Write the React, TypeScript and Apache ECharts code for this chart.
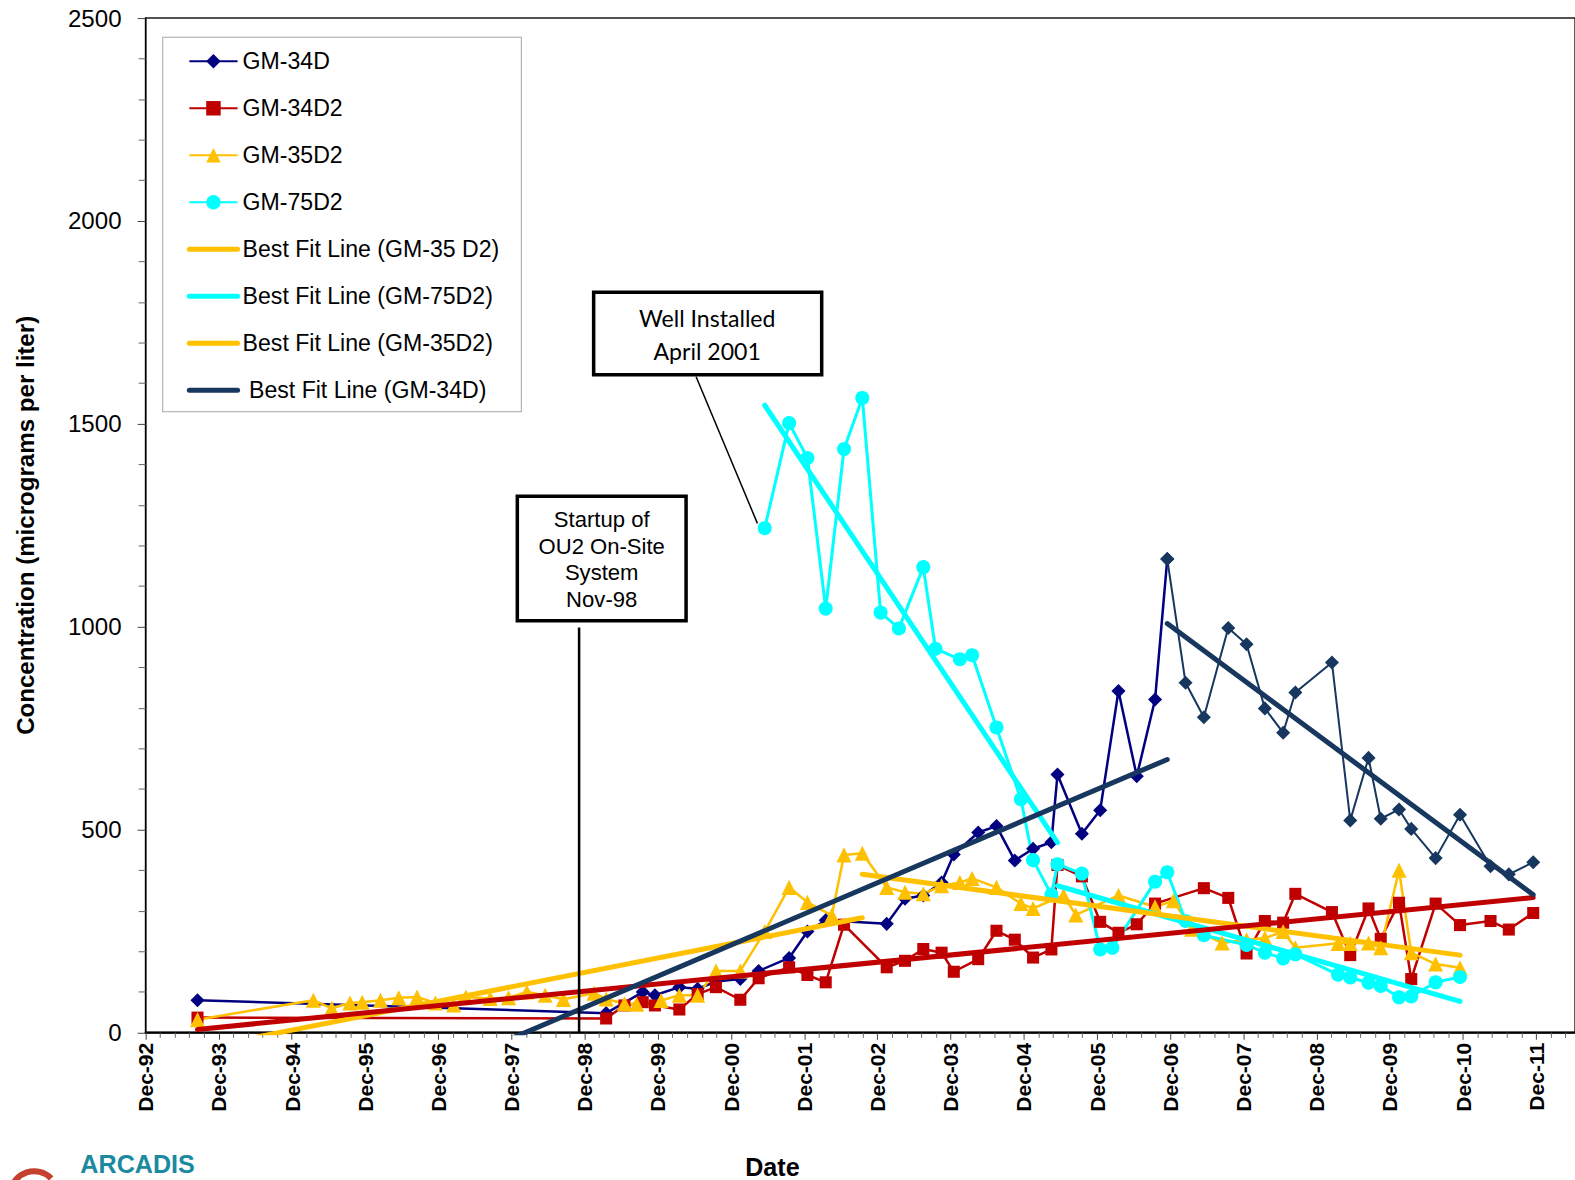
import React, { useEffect, useRef } from "react";
import * as echarts from "echarts";

const FONT = "'Liberation Sans', Arial, sans-serif";

// ---- data (date "YYYY-MM", concentration ug/L) ----
const gm34d: [string, number][] = [
  ["1993-08", 80], ["1999-03", 48], ["1999-09", 100], ["1999-11", 92], ["2000-03", 112],
  ["2000-06", 108], ["2000-09", 126], ["2001-01", 132], ["2001-04", 152], ["2001-09", 184],
  ["2001-12", 249], ["2002-03", 277], ["2003-01", 268], ["2003-04", 330], ["2003-07", 338],
  ["2003-10", 370], ["2003-12", 439], ["2004-04", 493], ["2004-07", 509], ["2004-10", 424],
  ["2005-01", 453], ["2005-04", 469], ["2005-05", 636], ["2005-09", 490], ["2005-12", 548],
  ["2006-03", 842], ["2006-06", 632], ["2006-09", 821], ["2006-11", 1167],
];
const gm34dLate: [string, number][] = [
  ["2006-11", 1167], ["2007-02", 862], ["2007-05", 777], ["2007-09", 997], ["2007-12", 957],
  ["2008-03", 799], ["2008-06", 739], ["2008-08", 838], ["2009-02", 912], ["2009-05", 523],
  ["2009-08", 677], ["2009-10", 527], ["2010-01", 550], ["2010-03", 502], ["2010-07", 430],
  ["2010-11", 537], ["2011-04", 410], ["2011-07", 390], ["2011-11", 420],
];
const gm34d2: [string, number][] = [
  ["1993-08", 37], ["1999-03", 35], ["1999-06", 67], ["1999-09", 75], ["1999-11", 67],
  ["2000-03", 57], ["2000-06", 95], ["2000-09", 112], ["2001-01", 81], ["2001-04", 134],
  ["2001-09", 161], ["2001-12", 142], ["2002-03", 124], ["2002-06", 266], ["2003-01", 161],
  ["2003-04", 177], ["2003-07", 206], ["2003-10", 197], ["2003-12", 150], ["2004-04", 181],
  ["2004-07", 251], ["2004-10", 229], ["2005-01", 185], ["2005-04", 205], ["2005-05", 413],
  ["2005-09", 385], ["2005-12", 273], ["2006-03", 246], ["2006-06", 267], ["2006-09", 318],
  ["2007-05", 356], ["2007-09", 332], ["2007-12", 195], ["2008-03", 275], ["2008-06", 271],
  ["2008-08", 342], ["2009-02", 297], ["2009-05", 191], ["2009-08", 306], ["2009-10", 231],
  ["2010-01", 320], ["2010-03", 132], ["2010-07", 318], ["2010-11", 265], ["2011-04", 275],
  ["2011-07", 254], ["2011-11", 295],
];
const gm35d2: [string, number][] = [
  ["1993-08", 32], ["1995-03", 80], ["1995-06", 60], ["1995-09", 73], ["1995-11", 75],
  ["1996-02", 80], ["1996-05", 86], ["1996-08", 88], ["1996-11", 73], ["1997-02", 68],
  ["1997-04", 88], ["1997-08", 84], ["1997-11", 86], ["1998-02", 100], ["1998-05", 92],
  ["1998-08", 82], ["1999-01", 97], ["1999-03", 83], ["1999-06", 71], ["1999-08", 70],
  ["1999-12", 79], ["2000-03", 92], ["2000-06", 92], ["2000-09", 152], ["2001-01", 152],
  ["2001-05", 249], ["2001-09", 358], ["2001-12", 321], ["2002-04", 289], ["2002-06", 438],
  ["2002-09", 442], ["2003-01", 358], ["2003-04", 346], ["2003-07", 342], ["2003-10", 362],
  ["2004-01", 370], ["2004-03", 380], ["2004-07", 358], ["2004-11", 318], ["2005-01", 306],
  ["2005-06", 338], ["2005-08", 290], ["2006-03", 338], ["2006-09", 310], ["2006-12", 325],
  ["2007-03", 255], ["2007-08", 221], ["2007-12", 229], ["2008-03", 233], ["2008-06", 249],
  ["2008-08", 209], ["2009-03", 220], ["2009-05", 220], ["2009-08", 221], ["2009-10", 209],
  ["2010-01", 400], ["2010-03", 197], ["2010-07", 169], ["2010-11", 160],
];
const gm75d2: [string, number][] = [
  ["2001-05", 1243], ["2001-09", 1502], ["2001-12", 1416], ["2002-03", 1045], ["2002-06", 1438],
  ["2002-09", 1564], ["2002-12", 1035], ["2003-03", 996], ["2003-07", 1147], ["2003-09", 946],
  ["2004-01", 920], ["2004-03", 930], ["2004-07", 752], ["2004-11", 575], ["2005-01", 425],
  ["2005-04", 340], ["2005-05", 415], ["2005-09", 392], ["2005-12", 205], ["2006-02", 209],
  ["2006-09", 372], ["2006-11", 395], ["2007-02", 275], ["2007-05", 240], ["2007-12", 216],
  ["2008-03", 197], ["2008-06", 183], ["2008-08", 193], ["2009-03", 143], ["2009-05", 136],
  ["2009-08", 123], ["2009-10", 115], ["2010-01", 87], ["2010-03", 89], ["2010-07", 124],
  ["2010-11", 137],
];
// best fit line end points
const fit35a: [string, number][] = [["1994-06", -10], ["2002-09", 283]];
const fit35b: [string, number][] = [["2002-09", 390], ["2010-11", 191]];
const fit75a: [string, number][] = [["2001-05", 1546], ["2005-05", 468]];
const fit75b: [string, number][] = [["2005-05", 362], ["2010-11", 77]];
const fit34d2: [string, number][] = [["1993-08", 8], ["2011-11", 333]];
const fit34da: [string, number][] = [["1997-12", -11], ["2006-11", 673]];
const fit34db: [string, number][] = [["2006-11", 1008], ["2011-11", 340]];

const startupMonth = "1998-11";
const yTicks = { min: 0, max: 2500, interval: 500 };
const dataNames = ["GM-34D", "GM-34D2", "GM-35D2", "GM-75D2"];
const fitNames = ["Best Fit Line (GM-35 D2)", "Best Fit Line (GM-75D2)", "Best Fit Line (GM-35D2)", "Best Fit Line (GM-34D)"];

// years since Dec 1992 (mid-month)
function toT(d: string, mid = 0.5): number {
  const [y, m] = d.split("-").map(Number);
  return ((y - 1992) * 12 + (m - 12) + mid) / 12;
}
const pts = (arr: [string, number][]) => arr.map(([d, v]) => [toT(d), v]);

function dataSeries(name: string, arr: [string, number][], color: string, symbol: string, size: number, width: number) {
  return {
    name, type: "line", data: pts(arr), symbol, symbolSize: size, z: 2,
    lineStyle: { color, width }, itemStyle: { color },
  };
}
function fitSeries(name: string, arr: [string, number][], color: string) {
  return {
    name, type: "line", data: pts(arr), symbol: "none", z: 3, clip: true,
    lineStyle: { color, width: 5, cap: "round" }, itemStyle: { color },
  };
}

export default function App() {
  const ref = useRef<HTMLDivElement>(null);
  useEffect(() => {
    document.documentElement.style.overflow = "hidden";
    document.body.style.margin = "0";
    document.body.style.overflow = "hidden";
    const chart = echarts.init(ref.current!, null, { renderer: "svg" });
    const tStart = toT(startupMonth, 0);
    const option: any = {
      animation: false,
      backgroundColor: "#fff",
      textStyle: { fontFamily: FONT },
      grid: {
        left: 145, right: 7, top: 18, bottom: 152, show: true, borderColor: "#1a1a1a", borderWidth: 1.5,
        containLabel: false, outerBoundsMode: "none",
      },
      xAxis: {
        type: "value", min: 0, max: 19.53, interval: 1,
        axisLine: { show: true, onZero: false, lineStyle: { color: "#000", width: 2 } },
        axisTick: { show: true, length: 7, lineStyle: { color: "#444" } },
        minorTick: { show: true, splitNumber: 5, length: 5, lineStyle: { color: "#666" } },
        splitLine: { show: false },
        axisLabel: {
          rotate: 90, margin: 10, color: "#000", fontFamily: FONT, fontWeight: "bold", fontSize: 21,
          showMaxLabel: false,
          formatter: (v: number) => {
            if (Math.abs(v - Math.round(v)) > 1e-6) return "";
            const yy = (92 + Math.round(v)) % 100;
            return "Dec-" + (yy < 10 ? "0" + yy : String(yy));
          },
        },
      },
      yAxis: {
        type: "value", min: yTicks.min, max: yTicks.max, interval: yTicks.interval,
        name: "Concentration (micrograms per liter)", nameLocation: "middle", nameGap: 108,
        nameTextStyle: { fontFamily: FONT, fontWeight: "bold", fontSize: 24, color: "#000" },
        axisLine: { show: true, lineStyle: { color: "#000", width: 1.5 } },
        axisTick: { show: true, length: 8, lineStyle: { color: "#444" } },
        minorTick: { show: true, splitNumber: 5, length: 7, lineStyle: { color: "#666" } },
        splitLine: { show: false },
        axisLabel: { margin: 24, color: "#000", fontFamily: FONT, fontSize: 24, formatter: (v: number) => String(v) },
      },
      legend: {
        orient: "vertical", left: 186, top: 49, padding: 0, itemWidth: 48, itemHeight: 18, itemGap: 22.8,
        selectedMode: false, z: 6,
        textStyle: { fontFamily: FONT, fontSize: 23, color: "#000", lineHeight: 24 },
        formatter: (n: string) => (n === "Best Fit Line (GM-34D)" ? " " + n : n),
        data: [
          ...dataNames.map((n) => ({ name: n, lineStyle: { width: 2 } })),
          ...fitNames.map((n) => ({ name: n, itemStyle: { opacity: 0 }, lineStyle: { width: 5 } })),
        ],
      },
      graphic: [
        { type: "rect", z: 0, shape: { x: 162, y: 37, width: 357, height: 373 }, style: { fill: "#fff", stroke: "#a6a6a6", lineWidth: 1 } },
        { type: "rect", z: 20, shape: { x: 515, y: 494, width: 168, height: 124 }, style: { fill: "#fff", stroke: "#000", lineWidth: 3.5 } },
        {
          type: "text", z: 21, x: 599, y: 557,
          style: { text: "Startup of\nOU2 On-Site\nSystem\nNov-98", font: `22px ${FONT}`, fill: "#000", align: "center", verticalAlign: "middle", lineHeight: 26.5 },
        },
        { type: "rect", z: 20, shape: { x: 591, y: 291, width: 227, height: 82 }, style: { fill: "#fff", stroke: "#000", lineWidth: 3.5 } },
        {
          type: "text", z: 21, x: 704, y: 333,
          style: { text: "Well Installed\nApril 2001", font: `23px Lato, ${FONT}`, fill: "#000", align: "center", verticalAlign: "middle", lineHeight: 32 },
        },
        { type: "line", z: 19, shape: { x1: 693, y1: 375, x2: 754, y2: 521 }, style: { stroke: "#000", lineWidth: 1.5 } },
        {
          type: "text", z: 21, x: 769, y: 1162,
          style: { text: "Date", font: `bold 25px ${FONT}`, fill: "#000", align: "center", verticalAlign: "middle" },
        },
        {
          type: "arc", z: 21, shape: { cx: 34, cy: 1190, r: 24, startAngle: Math.PI * 1.05, endAngle: Math.PI * 1.75 },
          style: { stroke: "#c4412f", lineWidth: 6, fill: "none" },
        },
        {
          type: "text", z: 21, x: 80, y: 1171,
          style: { text: "ARCADIS", font: `bold 25px ${FONT}`, fill: "#1b8a9e", align: "left", verticalAlign: "bottom" },
        },
      ],
      series: [
        dataSeries("GM-34D", gm34d, "#000080", "diamond", 14, 2.5),
        dataSeries("GM-34D", gm34dLate, "#17375E", "diamond", 14, 2),
        dataSeries("GM-34D2", gm34d2, "#C00000", "rect", 12, 2.5),
        dataSeries("GM-35D2", gm35d2, "#FFC000", "triangle", 15, 2.5),
        dataSeries("GM-75D2", gm75d2, "#00FFFF", "circle", 14, 3),
        fitSeries("Best Fit Line (GM-35 D2)", fit35a, "#FFC000"),
        fitSeries("Best Fit Line (GM-75D2)", fit75a, "#00FFFF"),
        fitSeries("Best Fit Line (GM-75D2)", fit75b, "#00FFFF"),
        fitSeries("Best Fit Line (GM-35D2)", fit35b, "#FFC000"),
        {
          ...fitSeries("Best Fit Line (GM-34D2)", fit34d2, "#C00000"),
          markLine: {
            silent: true, symbol: "none", label: { show: false },
            lineStyle: { color: "#000", width: 2.5, type: "solid" },
            data: [[{ coord: [tStart, 0] }, { coord: [tStart, 998] }]],
          },
        },
        fitSeries("Best Fit Line (GM-34D)", fit34da, "#17375E"),
        fitSeries("Best Fit Line (GM-34D)", fit34db, "#17375E"),
      ],
    };
    chart.setOption(option);
    return () => chart.dispose();
  }, []);
  return (
    <div
      ref={ref}
      style={{
        position: "fixed", left: 0, top: 0, width: 1575, height: 1180, overflow: "hidden",
        transform: "scale(1.0045)", transformOrigin: "0 0",
      }}
    />
  );
}
